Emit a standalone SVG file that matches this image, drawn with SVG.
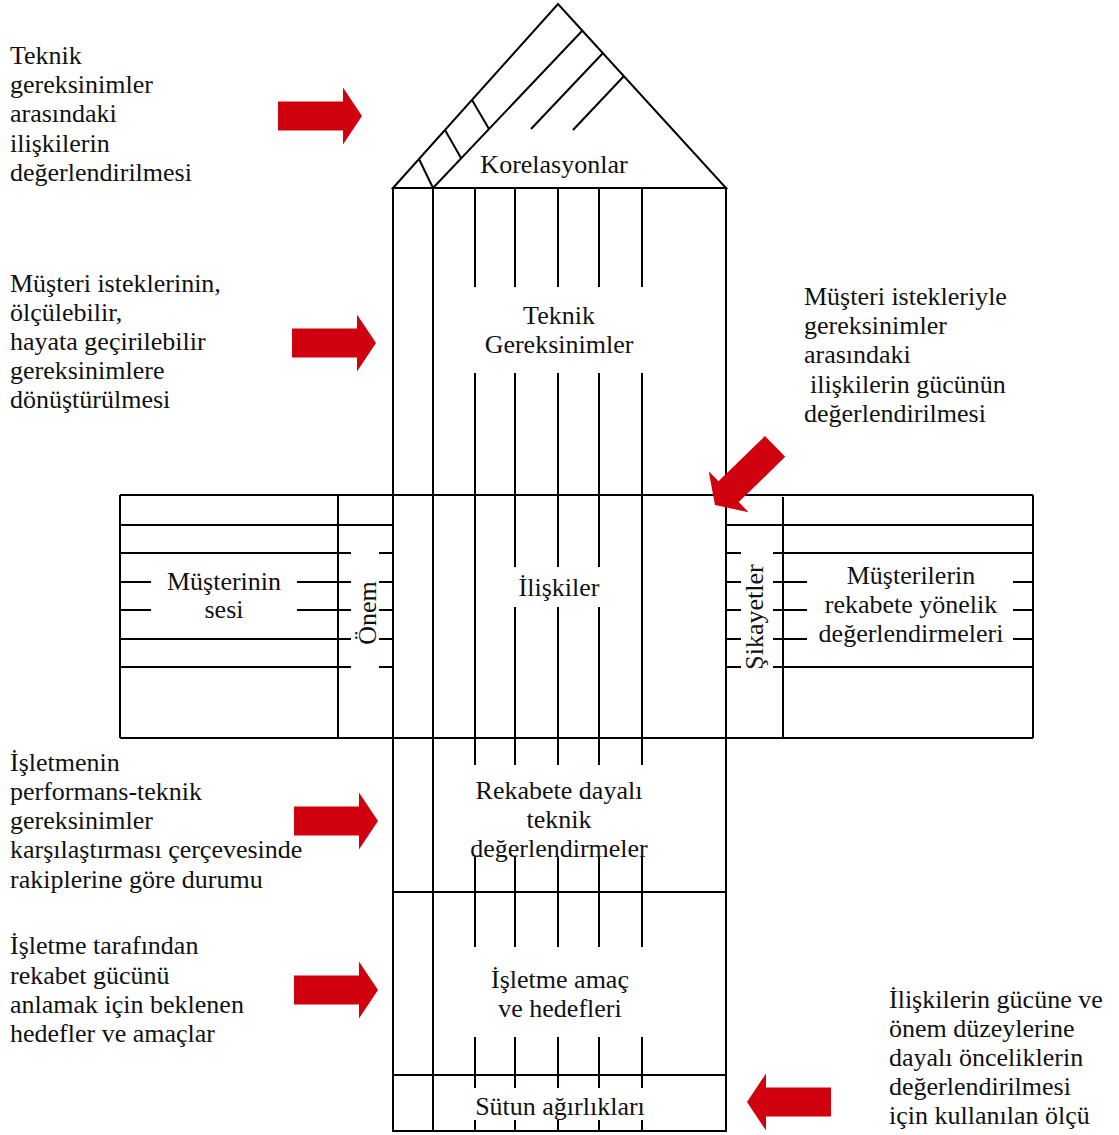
<svg xmlns="http://www.w3.org/2000/svg" width="1119" height="1135" viewBox="0 0 1119 1135">
  <style>
    .ln { stroke: #000; stroke-width: 2; fill: none; stroke-linecap: butt; }
    .t { font-family: "Liberation Serif", "Times New Roman", serif; font-size: 26px; fill: #111; }
    .c { text-anchor: middle; }
    .arrow { fill: #d0000f; }
  </style>
  <defs>
    <!-- block arrow pointing right, tip at the origin -->
    <path id="blockArrow" d="M-84,-14.5 H-19 V-28.5 L0,0 L-19,28.5 V14.5 H-84 Z"/>
  </defs>
  <rect width="1119" height="1135" fill="#fff"/>

  <!-- roof: correlation matrix -->
  <g id="roof">
    <polygon class="ln" points="393,188 558,4 726,188"/>
    <line class="ln" x1="433" y1="188" x2="582" y2="31"/>
    <line class="ln" x1="419" y1="159" x2="433" y2="188"/>
    <line class="ln" x1="445" y1="130" x2="461" y2="158"/>
    <line class="ln" x1="472" y1="100" x2="489" y2="129"/>
    <line class="ln" x1="603" y1="53" x2="531" y2="129"/>
    <line class="ln" x1="624" y1="76" x2="573" y2="130"/>
    <text class="t c" x="554" y="173">Korelasyonlar</text>
  </g>

  <!-- central column frame -->
  <g id="column">
    <rect class="ln" x="393" y="188" width="333" height="943"/>
    <line class="ln" x1="433" y1="188" x2="433" y2="1131"/>
    <line class="ln" x1="120" y1="495" x2="1033" y2="495"/>
    <line class="ln" x1="120" y1="738" x2="1033" y2="738"/>
    <line class="ln" x1="393" y1="892" x2="726" y2="892"/>
    <line class="ln" x1="393" y1="1075" x2="726" y2="1075"/>
  </g>

  <!-- technical requirements -->
  <g id="technical-requirements">
    <path class="ln" d="M475,188V287 M515,188V287 M558,188V287 M599,188V287 M642,188V287"/>
    <text class="t c" x="559" y="324">Teknik</text>
    <text class="t c" x="559" y="353">Gereksinimler</text>
  </g>

  <!-- relationship matrix -->
  <g id="relationships">
    <path class="ln" d="M475,373V765 M642,373V765 M515,373V567 M558,373V567 M599,373V567 M515,607V765 M558,607V765 M599,607V765"/>
    <text class="t c" x="559" y="596">İlişkiler</text>
  </g>

  <!-- voice of the customer -->
  <g id="voice-of-customer">
    <line class="ln" x1="120" y1="495" x2="120" y2="738"/>
    <line class="ln" x1="338" y1="495" x2="338" y2="738"/>
    <path class="ln" d="M120,525H393 M120,553H351 M120,582H151 M297,582H351 M120,610H151 M297,610H351 M120,639H351 M120,667H351"/>
    <text class="t c" x="224" y="590">Müşterinin</text>
    <text class="t c" x="224" y="618">sesi</text>
  </g>

  <!-- importance column -->
  <g id="importance">
    <path class="ln" d="M379,553H393 M379,582H393 M379,610H393 M379,639H393 M379,667H393"/>
    <text class="t c" transform="translate(376,613) rotate(-90)">Önem</text>
  </g>

  <!-- complaints column -->
  <g id="complaints">
    <path class="ln" d="M726,553H741 M726,582H741 M726,610H741 M726,639H741 M726,667H741"/>
    <text class="t c" transform="translate(763,617) rotate(-90)">Şikayetler</text>
  </g>

  <!-- competitive assessment -->
  <g id="competitive-assessment">
    <line class="ln" x1="1033" y1="495" x2="1033" y2="738"/>
    <line class="ln" x1="783" y1="497" x2="783" y2="738"/>
    <path class="ln" d="M726,525H1033 M773,553H1033 M773,582H807 M1013,582H1033 M773,610H807 M1013,610H1033 M773,639H807 M1013,639H1033 M773,667H1033"/>
    <text class="t c" x="911" y="584">Müşterilerin</text>
    <text class="t c" x="911" y="613">rekabete yönelik</text>
    <text class="t c" x="911" y="642">değerlendirmeleri</text>
  </g>

  <!-- competitive technical assessment -->
  <g id="technical-assessment">
    <path class="ln" d="M475,857V947 M515,857V947 M558,857V947 M599,857V947 M642,857V947"/>
    <text class="t c" x="559" y="799">Rekabete dayalı</text>
    <text class="t c" x="559" y="828">teknik</text>
    <text class="t c" x="559" y="857">değerlendirmeler</text>
  </g>

  <!-- targets -->
  <g id="targets">
    <path class="ln" d="M475,1037V1088 M515,1037V1088 M558,1037V1088 M599,1037V1088 M642,1037V1088"/>
    <text class="t c" x="560" y="988">İşletme amaç</text>
    <text class="t c" x="560" y="1017">ve hedefleri</text>
  </g>

  <!-- column weights -->
  <g id="column-weights">
    <path class="ln" d="M475,1120V1131 M515,1120V1131 M558,1120V1131 M599,1120V1131 M642,1120V1131"/>
    <text class="t c" x="560" y="1115">Sütun ağırlıkları</text>
  </g>

  <!-- explanatory notes -->
  <g id="note-correlations" class="t">
    <text x="10" y="64">Teknik</text>
    <text x="10" y="93">gereksinimler</text>
    <text x="10" y="122">arasındaki</text>
    <text x="10" y="152">ilişkilerin</text>
    <text x="10" y="181">değerlendirilmesi</text>
  </g>
  <g id="note-requirements" class="t">
    <text x="10" y="292">Müşteri isteklerinin,</text>
    <text x="10" y="321">ölçülebilir,</text>
    <text x="10" y="350">hayata geçirilebilir</text>
    <text x="10" y="379">gereksinimlere</text>
    <text x="10" y="408">dönüştürülmesi</text>
  </g>
  <g id="note-relationships" class="t">
    <text x="804" y="305">Müşteri istekleriyle</text>
    <text x="804" y="334">gereksinimler</text>
    <text x="804" y="363">arasındaki</text>
    <text x="810" y="393">ilişkilerin gücünün</text>
    <text x="804" y="422">değerlendirilmesi</text>
  </g>
  <g id="note-benchmark" class="t">
    <text x="10" y="771">İşletmenin</text>
    <text x="10" y="800">performans-teknik</text>
    <text x="10" y="829">gereksinimler</text>
    <text x="10" y="858">karşılaştırması çerçevesinde</text>
    <text x="10" y="888">rakiplerine göre durumu</text>
  </g>
  <g id="note-targets" class="t">
    <text x="10" y="954">İşletme tarafından</text>
    <text x="10" y="984">rekabet gücünü</text>
    <text x="10" y="1013">anlamak için beklenen</text>
    <text x="10" y="1042">hedefler ve amaçlar</text>
  </g>
  <g id="note-weights" class="t">
    <text x="889" y="1008">İlişkilerin gücüne ve</text>
    <text x="889" y="1037">önem düzeylerine</text>
    <text x="889" y="1066">dayalı önceliklerin</text>
    <text x="889" y="1095">değerlendirilmesi</text>
    <text x="889" y="1124">için kullanılan ölçü</text>
  </g>

  <!-- pointer arrows -->
  <g id="connectors" class="arrow">
    <use href="#blockArrow" transform="translate(362,116)"/>
    <use href="#blockArrow" transform="translate(376,343)"/>
    <use href="#blockArrow" transform="translate(715,505) rotate(135.7)"/>
    <use href="#blockArrow" transform="translate(378,821)"/>
    <use href="#blockArrow" transform="translate(378,990)"/>
    <use href="#blockArrow" transform="translate(747,1102) rotate(180)"/>
  </g>
</svg>
